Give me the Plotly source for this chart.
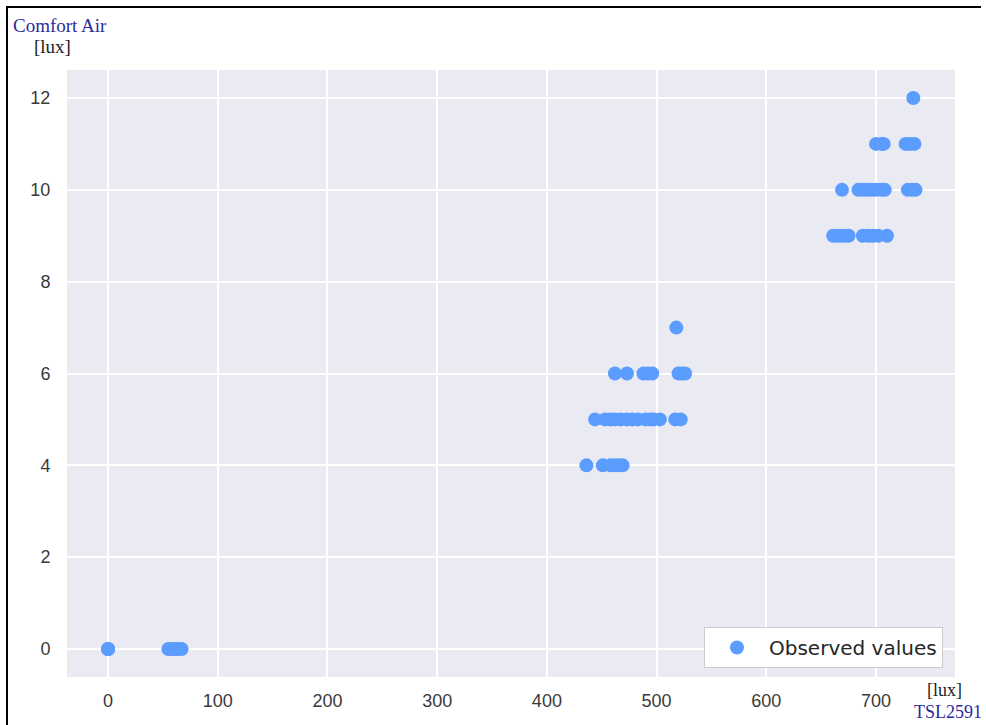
import plotly.graph_objects as go

# Paired readings: TSL2591 reference sensor vs. Comfort Air sensor (both in lux)
tsl2591_lux = [
    0, 0, 0, 55, 58, 61, 64, 67,
    436, 451, 458, 462, 466, 469,
    444, 453, 458, 462, 467, 473, 478, 483, 490, 494, 497, 503, 517, 522,
    462, 473, 488, 492, 496, 520, 523, 526,
    518,
    661, 664, 668, 672, 675, 688, 693, 697, 702, 710,
    669, 684, 688, 692, 696, 700, 705, 708, 729, 733, 736,
    700, 705, 707, 727, 731, 735,
    734,
]
comfort_air_lux = [
    0, 0, 0, 0, 0, 0, 0, 0,
    4, 4, 4, 4, 4, 4,
    5, 5, 5, 5, 5, 5, 5, 5, 5, 5, 5, 5, 5, 5,
    6, 6, 6, 6, 6, 6, 6, 6,
    7,
    9, 9, 9, 9, 9, 9, 9, 9, 9, 9,
    10, 10, 10, 10, 10, 10, 10, 10, 10, 10, 10,
    11, 11, 11, 11, 11, 11,
    12,
]

x_ticks = [0, 100, 200, 300, 400, 500, 600, 700]
y_ticks = [0, 2, 4, 6, 8, 10, 12]

W, H = 986, 725
L, R, T, B = 67, 31, 70, 48
PW, PH = W - L - R, H - T - B


def px(x):
    return (x - L) / PW


def py(y):
    return (H - B - y) / PH


fig = go.Figure()
fig.add_trace(go.Scatter(
    x=tsl2591_lux, y=comfort_air_lux, mode="markers",
    name="Observed values",
    marker=dict(color="#5B9CFF", size=14, line=dict(width=0)),
))

tick_font = dict(family="Liberation Sans, Arial, sans-serif", size=18, color="#3a3a3a")
fig.update_xaxes(
    range=[-37.4, 772.0], tickvals=x_ticks, showgrid=True, gridcolor="white",
    gridwidth=2, zeroline=False, showline=False, ticks="outside", ticklen=7,
    tickcolor="rgba(0,0,0,0)", tickfont=tick_font,
)
fig.update_yaxes(
    range=[-0.61, 12.61], tickvals=y_ticks, showgrid=True, gridcolor="white",
    gridwidth=2, zeroline=False, showline=False, ticks="outside", ticklen=12,
    tickcolor="rgba(0,0,0,0)", tickfont=tick_font,
)

serif = "Liberation Serif, DejaVu Serif, serif"
annotations = [
    dict(text="Comfort Air", x=px(11), y=py(26), xanchor="left", yanchor="middle",
         font=dict(family=serif, size=19, color="#2B2B9B")),
    dict(text="[lux]", x=px(32), y=py(46), xanchor="left", yanchor="middle",
         font=dict(family=serif, size=19, color="#222222")),
    dict(text="[lux]", x=px(964), y=py(690), xanchor="right", yanchor="middle",
         font=dict(family=serif, size=18, color="#222222")),
    dict(text="TSL2591", x=px(984), y=py(712), xanchor="right", yanchor="middle",
         font=dict(family=serif, size=18, color="#2B2B9B")),
]
for a in annotations:
    a.update(xref="paper", yref="paper", showarrow=False)

# frame lines along the top and left edge of the figure
shapes = [
    dict(type="line", xref="paper", yref="paper", x0=px(7), x1=px(981),
         y0=py(7), y1=py(7), line=dict(color="black", width=2)),
    dict(type="line", xref="paper", yref="paper", x0=px(7), x1=px(7),
         y0=py(6), y1=py(725), line=dict(color="black", width=2)),
]

fig.update_layout(
    width=W, height=H,
    margin=dict(l=L, r=R, t=T, b=B),
    paper_bgcolor="white", plot_bgcolor="#EAEAF2",
    showlegend=True,
    legend=dict(
        x=px(943), y=py(668), xanchor="right", yanchor="bottom",
        bgcolor="white", bordercolor="#cccccc", borderwidth=1,
        font=dict(family="DejaVu Sans, sans-serif", size=20, color="#262626"),
        itemwidth=54, tracegroupgap=0,
    ),
    annotations=annotations, shapes=shapes,
)

fig.write_html("out.html")
